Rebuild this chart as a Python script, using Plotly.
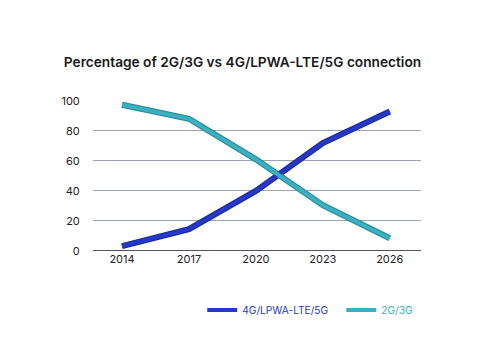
import plotly.graph_objects as go

years = [2014, 2017, 2020, 2023, 2026]
new_gen = [3.3, 14.5, 40, 71.8, 92.8]
old_gen = [97.3, 88, 61, 30.5, 8.5]
tick_vals = [0, 20, 40, 60, 80, 100]

blue = "#2638c8"
blue_dark = "#1a2796"
teal = "#3cb0c0"
teal_dark = "#238896"

fig = go.Figure()
fig.add_trace(go.Scatter(x=years, y=new_gen, mode="lines", line=dict(color=blue_dark, width=6),
                         showlegend=False, hoverinfo="skip"))
fig.add_trace(go.Scatter(x=years, y=old_gen, mode="lines", line=dict(color=teal_dark, width=6),
                         showlegend=False, hoverinfo="skip"))
fig.add_trace(go.Scatter(x=years, y=new_gen, mode="lines",
                         name="<span style='color:%s'>4G/LPWA-LTE/5G</span>" % blue,
                         line=dict(color=blue, width=4), legend="legend"))
fig.add_trace(go.Scatter(x=years, y=old_gen, mode="lines",
                         name="<span style='color:%s'>2G/3G</span>" % teal,
                         line=dict(color=teal, width=4), legend="legend2"))

leg_common = dict(orientation="h", y=-0.39, yanchor="middle", xanchor="left",
                  font=dict(size=10.2), itemwidth=30, bgcolor="rgba(0,0,0,0)")

fig.update_layout(
    width=500, height=353,
    margin=dict(l=93, r=79, t=100, b=102),
    paper_bgcolor="white", plot_bgcolor="white",
    font=dict(family="Inter", size=11, color="#222222"),
    title=dict(text="Percentage of 2G/3G vs 4G/LPWA-LTE/5G connection",
               x=0.485, xanchor="center", y=0.825, yanchor="middle",
               font=dict(size=13.7, color="#1a1a1a", family="Inter", weight=600)),
    xaxis=dict(range=[2012.7, 2027.4], tickvals=years, ticktext=[str(y) for y in years],
               showgrid=False, zeroline=False, showline=False, ticks="",
               tickfont=dict(size=11, color="#222222")),
    yaxis=dict(range=[0, 100.5], tickvals=tick_vals, showgrid=True, gridcolor="#9ea3b3",
               gridwidth=1, zeroline=False, showline=False, ticks="outside",
               ticklen=10, tickcolor="rgba(0,0,0,0)",
               tickfont=dict(size=11, color="#222222")),
    legend=dict(x=0.333, **leg_common),
    legend2=dict(x=0.757, **leg_common),
    showlegend=True,
)
fig.add_shape(type="line", xref="paper", yref="y", x0=0, x1=1, y0=0, y1=0,
              line=dict(color="#141a3a", width=1.5))
fig.write_html("out.html")
